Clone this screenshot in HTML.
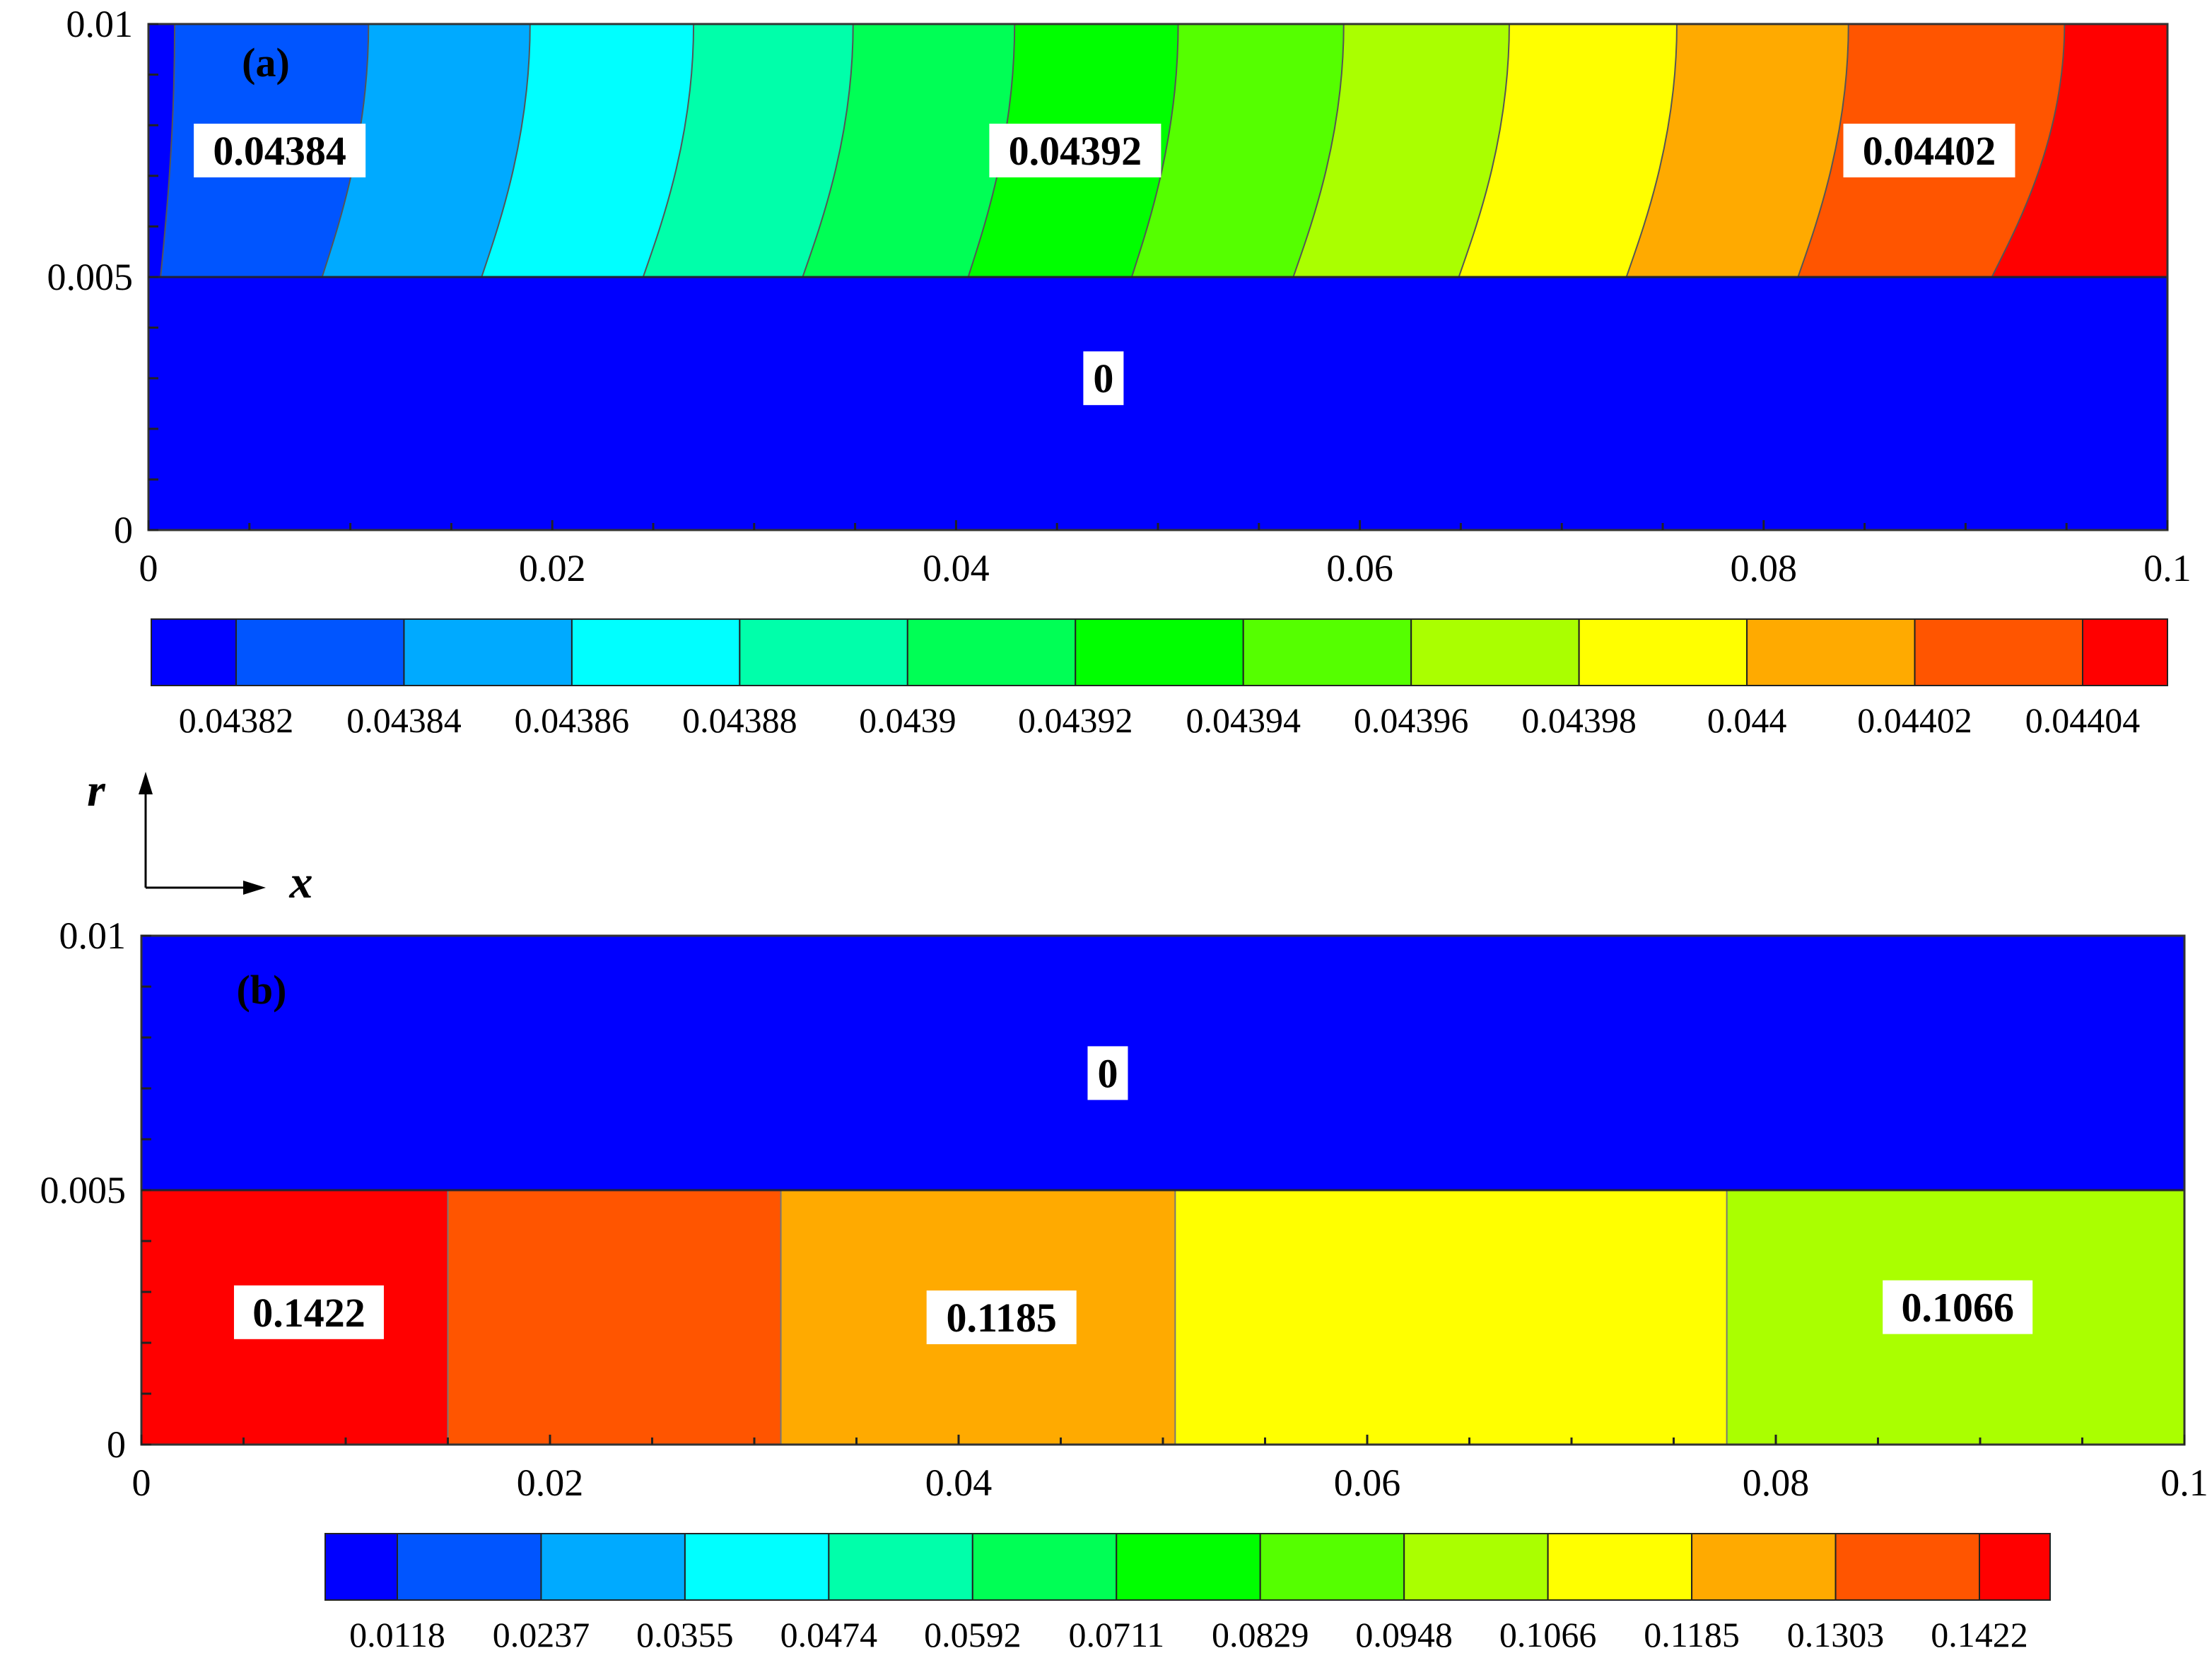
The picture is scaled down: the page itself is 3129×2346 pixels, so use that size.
<!DOCTYPE html>
<html><head><meta charset="utf-8"><style>
body{margin:0;background:#fff}
svg{display:block;font-family:"Liberation Serif",serif}
</style></head><body>
<svg id="s" width="3129" height="2346" viewBox="0 0 3129 2346" xmlns="http://www.w3.org/2000/svg"></svg>
<script>
const colorsA=["#0000FF","#0055FF","#00AAFF","#00FFFF","#00FFAA","#00FF55","#00FF00","#55FF00","#AAFF00","#FFFF00","#FFAA00","#FF5500","#FF0000"];
const boundTopA=[0.0013,0.0109,0.0189,0.0270,0.0349,0.0429,0.0510,0.0592,0.0674,0.0757,0.0842,0.0949];
const boundBotA=[0.0006,0.0086,0.0165,0.0245,0.0324,0.0406,0.0487,0.0567,0.0649,0.0732,0.0817,0.0913];
const boundB=[0.0150,0.0313,0.0506,0.0776];
const colorsB=["#FF0000","#FF5500","#FFAA00","#FFFF00","#AAFF00"];
const legendA=["0.04382","0.04384","0.04386","0.04388","0.0439","0.04392","0.04394","0.04396","0.04398","0.044","0.04402","0.04404"];
const legendB=["0.0118","0.0237","0.0355","0.0474","0.0592","0.0711","0.0829","0.0948","0.1066","0.1185","0.1303","0.1422"];
const xTicks=["0","0.02","0.04","0.06","0.08","0.1"];
const yTicks=["0","0.005","0.01"];
const labelsA=[{t:"0.04384",x:0.0065,y:0.0075},{t:"0.04392",x:0.0459,y:0.0075},{t:"0.04402",x:0.0882,y:0.0075},{t:"0",x:0.0473,y:0.0030}];
const labelsB=[{t:"0",x:0.0473,y:0.0073},{t:"0.1422",x:0.0082,y:0.0026},{t:"0.1185",x:0.0421,y:0.0025},{t:"0.1066",x:0.0889,y:0.0027}];
const S=document.getElementById('s');const NS="http://www.w3.org/2000/svg";
function el(tag,attrs,parent){const e=document.createElementNS(NS,tag);for(const k in attrs)e.setAttribute(k,attrs[k]);(parent||S).appendChild(e);return e;}
function panel(P,name){
  const g=el('g',{});
  
  
  const X=v=>P.l+(P.r-P.l)*v/0.1, Y=v=>P.b-(P.b-P.t)*v/0.01;
  return {g,X,Y};
}
function axes(P,p){
  const {g,X,Y}=p;
  el('rect',{x:P.l,y:P.t,width:P.r-P.l,height:P.b-P.t,fill:'none',stroke:'#333',"stroke-width":3},g);
  for(let i=0;i<=20;i++){const x=X(i*0.005);el('line',{x1:x,x2:x,y1:P.b,y2:P.b-(i%4==0?14:10),stroke:'#222',"stroke-width":3},g);}
  for(let i=0;i<=10;i++){const y=Y(i*0.001);el('line',{x1:P.l,x2:P.l+14,y1:y,y2:y,stroke:'#222',"stroke-width":3},g);}
  xTicks.forEach((t,i)=>{const e=el('text',{x:X(i*0.02),y:P.b+72,"font-size":54,"text-anchor":"middle"},g);e.textContent=t;
    });
  yTicks.forEach((t,i)=>{const e=el('text',{x:P.l-22,y:Y(i*0.005)+18,"font-size":54,"text-anchor":"end"},g);e.textContent=t;
    });
}
function box(p,L,g){
  const x=p.X(L.x),y=p.Y(L.y);const w=L.t.length*31+26;
  el('rect',{x:x-w/2,y:y-38,width:w,height:76,fill:'#fff'},g);
  const e=el('text',{x:x,y:y+20,"font-size":58,"font-weight":"bold","text-anchor":"middle"},g);e.textContent=L.t;
  
}
function legend(L,cols,labs,name){
  const g=el('g',{});
  
  
  const n=cols.length, w=(L.r-L.l-L.first-L.last)/(n-2);
  let x=L.l;
  cols.forEach((c,i)=>{const cw=i==0?L.first:(i==n-1?L.last:w);
    const r=el('rect',{x:x,y:L.t,width:cw,height:L.h,fill:c,stroke:'#222',"stroke-width":2},g);
    
    x+=cw;
    if(i<labs.length){const e=el('text',{x:x,y:L.t+L.h+66,"font-size":50,"text-anchor":"middle"},g);e.textContent=labs[i];
      }
  });
}
// Panel A
const PA={l:210,r:3066,t:34,b:750};
const pa=panel(PA,'panel-a');
const midA=pa.Y(0.005);
el('rect',{x:PA.l,y:midA,width:PA.r-PA.l,height:PA.b-midA,fill:'#0000FF'},pa.g);
for(let i=0;i<colorsA.length;i++){
  let d;
  if(i==0){d=`M${PA.l},${PA.t}H${PA.r}V${midA}H${PA.l}Z`;}
  else{const xt=pa.X(boundTopA[i-1]),xb=pa.X(boundBotA[i-1]),h=midA-PA.t;
    d=`M${xt},${PA.t}C${xt},${PA.t+h*0.45} ${xb+(xt-xb)*0.35},${PA.t+h*0.8} ${xb},${midA}H${PA.r}V${PA.t}Z`;}
  const p=el('path',{d:d,fill:colorsA[i],stroke:i?'#555':'none',"stroke-width":2},pa.g);
  
}
el('line',{x1:PA.l,x2:PA.r,y1:midA,y2:midA,stroke:'#223',"stroke-width":3},pa.g);
axes(PA,pa);
labelsA.forEach(L=>box(pa,L,pa.g));
let t=el('text',{x:376,y:108,"font-size":58,"font-weight":"bold","text-anchor":"middle"},pa.g);t.textContent="(a)";

legend({l:214,r:3066,t:876,h:94,first:120,last:120},colorsA,legendA,'legend-a');
// Arrows
const ag=el('g',{});


el('line',{x1:206,y1:1256,x2:206,y2:1120,stroke:'#000',"stroke-width":3},ag);
el('polygon',{points:"206,1092 196,1124 216,1124",fill:'#000'},ag);
el('line',{x1:206,y1:1256,x2:348,y2:1256,stroke:'#000',"stroke-width":3},ag);
el('polygon',{points:"376,1256 344,1246 344,1266",fill:'#000'},ag);
t=el('text',{x:136,y:1140,"font-size":66,"font-weight":"bold","font-style":"italic","text-anchor":"middle"},ag);t.textContent="r";
t=el('text',{x:426,y:1270,"font-size":66,"font-weight":"bold","font-style":"italic","text-anchor":"middle"},ag);t.textContent="x";
// Panel B
const PB={l:200,r:3090,t:1324,b:2044};
const pb=panel(PB,'panel-b');
const midB=pb.Y(0.005);
el('rect',{x:PB.l,y:PB.t,width:PB.r-PB.l,height:midB-PB.t,fill:'#0000FF'},pb.g);
const edges=[0].concat(boundB,[0.1]);
colorsB.forEach((c,i)=>{const x0=pb.X(edges[i]),x1=pb.X(edges[i+1]);
  const r=el('rect',{x:x0,y:midB,width:x1-x0,height:PB.b-midB,fill:c},pb.g);
  
  if(i>0)el('line',{x1:x0,x2:x0,y1:midB,y2:PB.b,stroke:'#777',"stroke-width":2},pb.g);});
el('line',{x1:PB.l,x2:PB.r,y1:midB,y2:midB,stroke:'#223',"stroke-width":3},pb.g);
axes(PB,pb);
labelsB.forEach(L=>box(pb,L,pb.g));
t=el('text',{x:370,y:1420,"font-size":58,"font-weight":"bold","text-anchor":"middle"},pb.g);t.textContent="(b)";

legend({l:460,r:2900,t:2170,h:94,first:102,last:100},colorsA,legendB,'legend-b');
</script>
</body></html>
